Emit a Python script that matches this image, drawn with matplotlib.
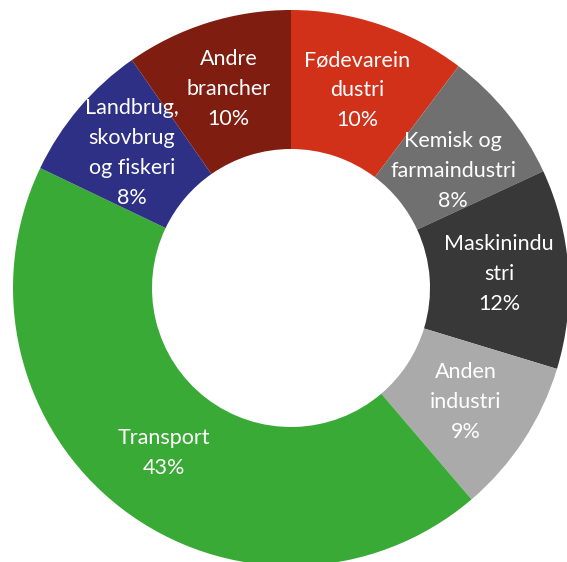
import matplotlib
matplotlib.use("Agg")
import matplotlib.pyplot as plt
import numpy as np

categories = ["Fødevarein\ndustri", "Kemisk og\nfarmaindustri", "Maskinindu\nstri",
              "Anden\nindustri", "Transport", "Landbrug,\nskovbrug\nog fiskeri",
              "Andre\nbrancher"]
values = [10.3, 7.8, 11.6, 9.05, 43.35, 8.2, 9.7]
colors = ["#D13119", "#707070", "#383838", "#AAAAAA", "#3AAA36", "#2E3085", "#7E1D10"]

W, H = 567, 562
cx, cy, R = 291, 288, 278

fig = plt.figure(figsize=(W / 100, H / 100), dpi=100)
ax = fig.add_axes([0, 0, 1, 1])

wedges, _ = ax.pie(values, colors=colors, startangle=90, counterclock=False,
                   radius=1.0, wedgeprops=dict(width=0.5, linewidth=0),
                   center=(0, 0), frame=True)
ax.set_xlim(-cx / R, (W - cx) / R)
ax.set_ylim(-(H - cy) / R, cy / R)
ax.set_aspect("auto")
ax.axis("off")

total = sum(values)
for i, (w, lab, v) in enumerate(zip(wedges, categories, values)):
    ang = np.deg2rad((w.theta1 + w.theta2) / 2)
    r = 0.75
    x, y = r * np.cos(ang), r * np.sin(ang)
    if i == 1:
        y -= 0.05
    ax.text(x, y, f"{lab}\n{round(v / total * 100):d}%", ha="center", va="center",
            color="white", fontsize=15.5, family=["Lato", "DejaVu Sans"],
            linespacing=1.62)

fig.savefig("out.png", dpi=100)
